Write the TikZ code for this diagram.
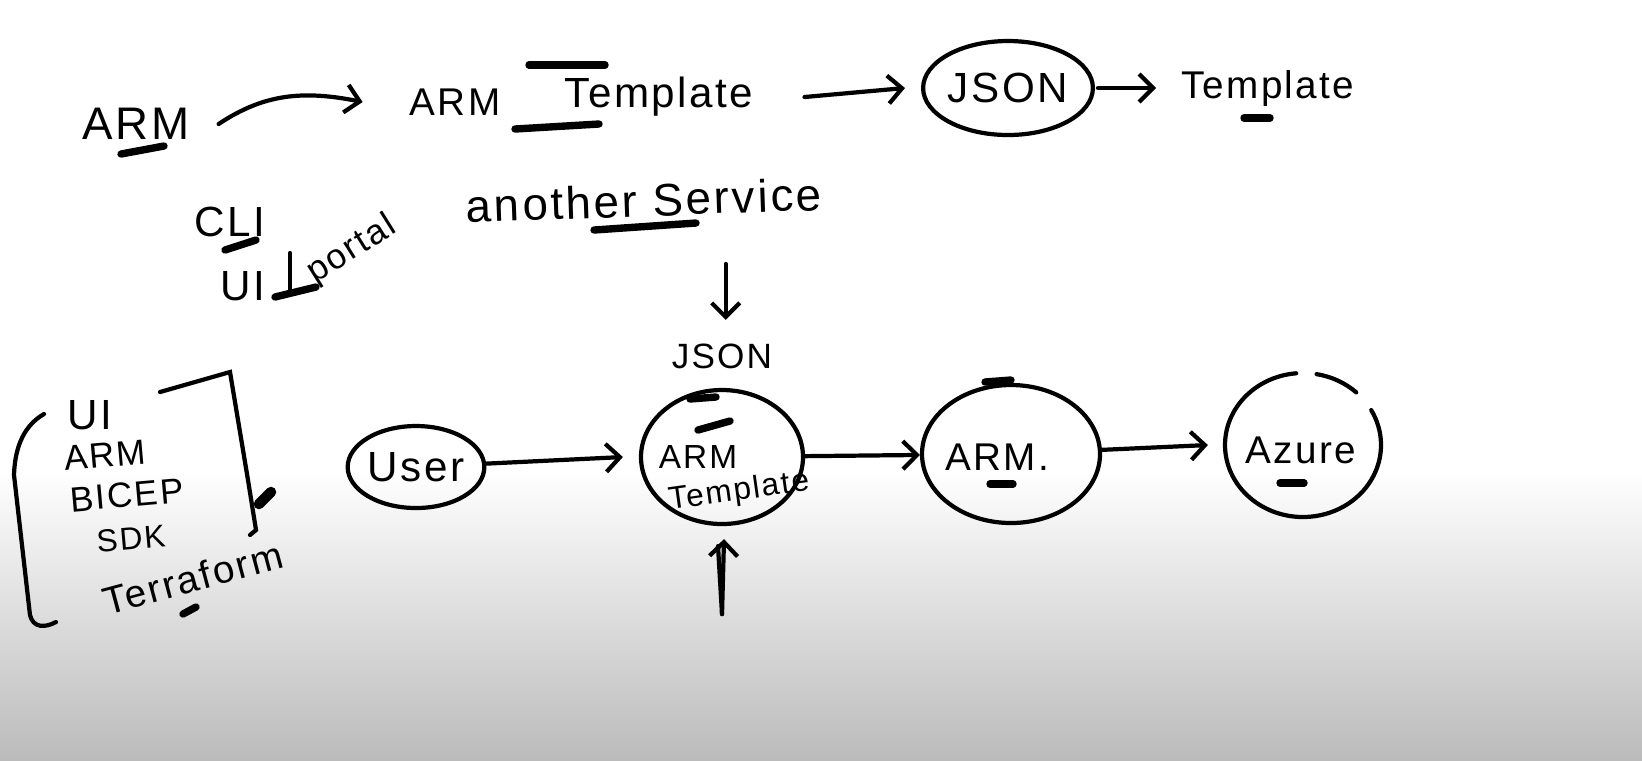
\documentclass[tikz,border=0pt]{standalone}
\usepackage{fontspec}
\setmainfont{Liberation Sans}[LetterSpace=6]
\usetikzlibrary{shapes,arrows}
\usetikzlibrary{arrows.meta,positioning}

\definecolor{boardgray}{HTML}{BBBBBB}

\begin{document}
\begin{tikzpicture}[
    x=0.1mm, y=-0.1mm,
    line width=1.2pt, line cap=round,
    bubble/.style={
        ellipse,
        draw,
        inner sep=0pt
    },
    hand/.style={
        font=\fontsize{12}{14}\selectfont,
        inner sep=0pt
    },
    listitem/.style={
        font=\fontsize{10}{12}\selectfont,
        inner sep=0pt
    },
    flow/.style={
        -{Straight Barb[length=1.4mm,width=2.8mm]}
    },
    underdash/.style={line width=2.1pt}
    ]

    % board
    \fill[white] (0,0) rectangle (1642,470);
    \shade[top color=white, bottom color=boardgray] (0,470) rectangle (1642,760);
    \useasboundingbox (0,0) rectangle (1642,760);

    % top row
    \node[hand, font=\fontsize{13}{15}\selectfont] (arm) at (136,124) {ARM};
    \node[hand, font=\fontsize{11}{13}\selectfont] (armtop) at (455,102) {ARM};
    \node[hand] (tpltop) at (659,97) {Template};
    \node[bubble, minimum width=15.6mm, minimum height=9.4mm, hand] (json) at (1008,88) {JSON};
    \node[hand, font=\fontsize{11}{13}\selectfont, right=8.4mm of json] (tpl) {Template};

    \draw[flow] ([xshift=2.7mm]arm.east) .. controls +(45,-30) and +(-60,-12) .. ([xshift=-4.5mm]armtop.west);
    \draw[flow] ([xshift=4.9mm]tpltop.east) -- ([xshift=-1.6mm]json.west);
    \draw[flow] ([xshift=0.3mm]json.east) -- ([xshift=-2.3mm]tpl.west);

    \draw[underdash] (121,154) -- (164,146);
    \draw[underdash] (529,65) -- (605,65);
    \draw[underdash] (515,129) -- (599,124);
    \draw[underdash] (1244,118) -- (1270,118);

    % middle notes
    \node[hand] (cli) at (230,222) {CLI};
    \node[hand] (ui) at (243,286) {UI};
    \node[hand, font=\fontsize{10}{12}\selectfont, rotate=32] (portal) at (352,250) {portal};
    \node[hand, font=\fontsize{13}{15}\selectfont, rotate=2] (svc) at (644,200) {another Service};

    \draw[underdash] (225,250) -- (256,240);
    \draw (290,253) -- (290,293);
    \draw[underdash] (275,297) -- (316,287);
    \draw[underdash] (594,230) -- (696,223);
    \draw[flow] (svc.south) ++(81,45) -- ++(0,56);

    % tool list
    \draw (44,414) .. controls (25,425) and (15,445) .. (14,475) -- (30,615)
        .. controls (33,628) and (45,628) .. (56,622);
    \draw (160,392) -- (230,372) -- (248,480) -- (256,530) -- (250,535);
    \draw[line width=3pt] (259,504) -- (271,492);

    \node[listitem, font=\fontsize{12}{14}\selectfont] (li1) at (90,415) {UI};
    \node[listitem, rotate=5] (li2) at (105,455) {ARM};
    \node[listitem, rotate=5] (li3) at (127,495) {BICEP};
    \node[listitem, font=\fontsize{9}{11}\selectfont, rotate=5] (li4) at (131,539) {SDK};
    \node[listitem, font=\fontsize{11}{13}\selectfont, rotate=15] (li5) at (193,578) {Terraform};
    \draw[underdash] (183,614) -- (196,607);

    % flow
    \node[bubble, minimum width=12.6mm, minimum height=8.2mm, hand] (user) at (416,467) {User};
    \node[bubble, minimum width=16.2mm, minimum height=13.4mm] (armT) at (722,457) {};
    \node[listitem, font=\fontsize{9.5}{11}\selectfont] (armTa) at ([shift={(-24,0)}]armT.center) {ARM};
    \node[listitem, font=\fontsize{9}{11}\selectfont, rotate=8] (armTb) at ([shift={(17,35)}]armT.center) {Template};
    \node[listitem, above=1.7mm of armT] (jsonlbl) {JSON};
    \node[bubble, minimum width=17.8mm, minimum height=13.8mm] (armdot) at (1011,454) {};
    \node[hand, font=\fontsize{11}{13}\selectfont] (armdott) at ([shift={(-14,3)}]armdot.center) {ARM.};
    \node[ellipse, inner sep=0pt, minimum width=15.6mm, minimum height=14.4mm] (azure) at (1303,445) {};
    \node[hand, font=\fontsize{11}{13}\selectfont] (azuret) at ([shift={(-2,5)}]azure.center) {Azure};

    \draw ([shift={(-95:78 and 72)}]azure.center) arc[start angle=-95, end angle=-389, x radius=78, y radius=72];
    \draw ([shift={(-80:78 and 72)}]azure.center) arc[start angle=-80, end angle=-47, x radius=78, y radius=72];

    \draw[flow] (user) -- ([xshift=-1.6mm]armT.west);
    \draw[flow] (armT) -- (armdot);
    \draw[flow] (armdot) -- ([xshift=-1.5mm]azure.west);
    \draw[flow] (armT.south) ++(0,88) -- ++(2,-75);
    \draw (armT.south) ++(0,88) -- ++(-4,-68);

    \draw[underdash] (690,399) -- (716,397);
    \draw[underdash] (698,430) -- (730,421);
    \draw[underdash] (990,484) -- (1013,484);
    \draw[underdash] (985,382) -- (1011,380);
    \draw[underdash] (1280,483) -- (1304,483);
\end{tikzpicture}
\end{document}
